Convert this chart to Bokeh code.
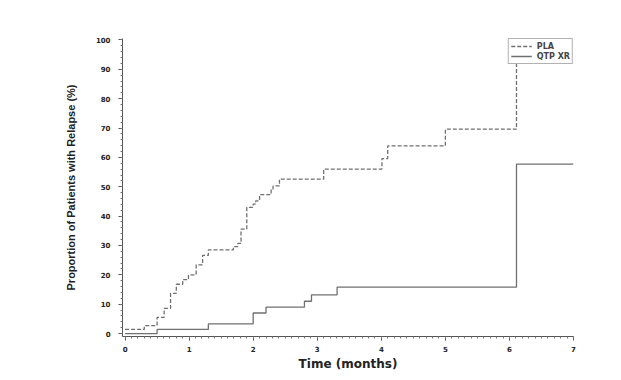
from bokeh.plotting import figure
from bokeh.models import Range1d, Legend, LegendItem, FixedTicker
from bokeh.embed import file_html
from bokeh.resources import INLINE

# PLA (placebo) cumulative relapse (%)
pla_time = [0, 0.30, 0.50, 0.61, 0.71, 0.80, 0.90, 0.99, 1.11, 1.21, 1.30, 1.69, 1.76, 1.81,
            1.90, 2.00, 2.04, 2.10, 2.28, 2.31, 2.41, 3.10, 4.01, 4.10, 5.00, 6.11]
pla_value = [1.4, 2.7, 5.5, 8.6, 13.7, 16.8, 18.4, 20.0, 23.4, 26.6, 28.5, 29.6, 30.7, 35.6,
             43.0, 44.1, 45.2, 47.3, 49.0, 50.3, 52.6, 56.0, 59.6, 63.9, 69.6, 100.0]

# QTP XR cumulative relapse (%)
qtp_time = [0, 0.50, 1.30, 2.00, 2.20, 2.80, 2.91, 3.31, 6.11, 7.0]
qtp_value = [0.0, 1.4, 3.3, 7.0, 9.0, 11.0, 13.2, 15.8, 57.7, 57.7]

x_ticks = [0, 1, 2, 3, 4, 5, 6, 7]
y_ticks = [0, 10, 20, 30, 40, 50, 60, 70, 80, 90, 100]

p = figure(width=621, height=380, output_backend="svg", toolbar_location=None,
           x_range=Range1d(-0.04, 7.0), y_range=Range1d(-1.0, 100.5),
           min_border_left=122, min_border_right=48, min_border_top=38, min_border_bottom=44)
p.outline_line_color = None
p.xgrid.visible = False
p.ygrid.visible = False
p.background_fill_color = "white"
p.border_fill_color = "white"

r_pla = p.step(pla_time, pla_value, mode="after", line_color="#707070", line_width=1.3,
               line_dash="4 2")
r_qtp = p.step(qtp_time, qtp_value, mode="after", line_color="#707070", line_width=1.3)

for ax in (p.xaxis[0], p.yaxis[0]):
    ax.axis_line_color = "#555555"
    ax.major_tick_line_color = "#555555"
    ax.minor_tick_line_color = "#777777"
    ax.major_tick_in = 0
    ax.major_tick_out = 4
    ax.minor_tick_in = 0
    ax.minor_tick_out = 2
    ax.major_label_text_font = "DejaVu Sans"
    ax.major_label_text_font_style = "bold"
    ax.major_label_text_font_size = "7px"
    ax.major_label_text_color = "#222222"
    ax.axis_label_text_font_style = "bold"
    ax.axis_label_text_color = "#222222"

p.xaxis.ticker = FixedTicker(ticks=x_ticks, minor_ticks=[i / 10 for i in range(0, 71)])
p.yaxis.ticker = FixedTicker(ticks=y_ticks, minor_ticks=[i * 2 for i in range(0, 51)])
p.xaxis.axis_label = "Time (months)"
p.yaxis.axis_label = "Proportion of Patients with Relapse (%)"
p.xaxis.axis_label_text_font = "DejaVu Sans"
p.xaxis.axis_label_text_font_size = "12px"
p.yaxis.axis_label_text_font = "Liberation Sans"
p.yaxis.axis_label_text_font_size = "11px"
p.xaxis.axis_label_standoff = 2
p.yaxis.axis_label_standoff = 16
p.xaxis.major_label_standoff = 5
p.yaxis.major_label_standoff = 8

legend = Legend(items=[LegendItem(label="PLA", renderers=[r_pla]),
                       LegendItem(label="QTP XR", renderers=[r_qtp])],
                location="top_right", margin=0, padding=2, spacing=0,
                label_text_font="DejaVu Sans", label_text_font_style="bold",
                label_text_font_size="8px", label_height=10, glyph_height=10, glyph_width=21,
                label_standoff=5, border_line_color="#666666", border_line_width=1.2,
                background_fill_alpha=1.0)
p.add_layout(legend)

open("out.html", "w").write(file_html(p, INLINE))
